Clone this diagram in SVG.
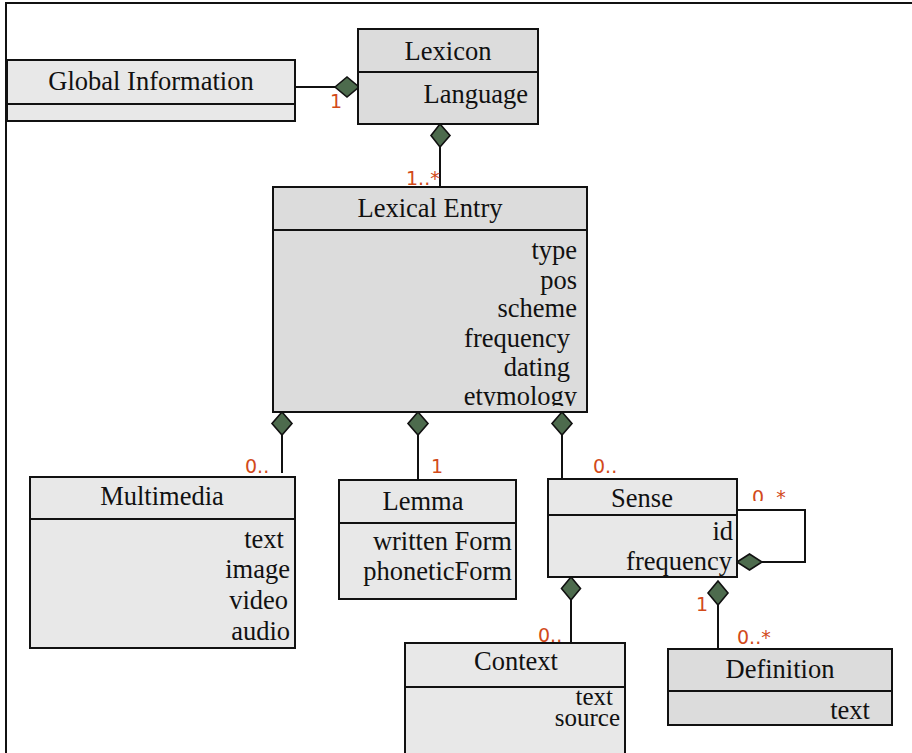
<svg xmlns="http://www.w3.org/2000/svg" width="912" height="753" viewBox="0 0 912 753">
<style>
.box{stroke:#111;stroke-width:2}
.l{fill:#e8e8e8}
.d{fill:#dcdcdc}
.t{font-family:"Liberation Serif","Times New Roman",serif;font-size:26.5px;fill:#111}
.s{font-size:25px}
.c{text-anchor:middle}
.r{text-anchor:end}
.m{font-family:"DejaVu Sans",sans-serif;font-size:19px;fill:#d24a1a}
.ln{stroke:#111;stroke-width:2;fill:none}
.dm{fill:#4d6b4d;stroke:#111;stroke-width:1.6}
</style>
<defs>
<clipPath id="clipEty"><rect x="272" y="380" width="316" height="26"/></clipPath>
<clipPath id="clipLoop"><rect x="740" y="480" width="80" height="21"/></clipPath>
</defs>
<rect width="912" height="753" fill="#fff"/>
<g id="frame"><path d="M6 753 V3 H912" class="ln" stroke-width="3"/></g>

<g id="connectors">
<path class="ln" d="M295 87 H335"/>
<polygon class="dm" points="335,87 347,77 359,87 347,97"/>
<path class="ln" d="M440 147 V187"/>
<polygon class="dm" points="440,124 450,135.5 440,147 431,135.5"/>
<path class="ln" d="M282 435 V473"/>
<polygon class="dm" points="282,412 292,423.5 282,435 272,423.5"/>
<path class="ln" d="M418 435 V480"/>
<polygon class="dm" points="418,412 428,423.5 418,435 408,423.5"/>
<path class="ln" d="M562 435 V481"/>
<polygon class="dm" points="562,412 572,423.5 562,435 552,423.5"/>
<path class="ln" d="M737 510 H805 V562 H762"/>
<polygon class="dm" points="737,562 749.5,554 762,562 749.5,570"/>
<path class="ln" d="M571 600 V643"/>
<polygon class="dm" points="571,577 580.5,588.5 571,600 561.5,588.5"/>
<path class="ln" d="M718 605 V649"/>
<polygon class="dm" points="718,581 728,593 718,605 708,593"/>
<path class="ln" d="M663 568 V577" stroke-width="1.5"/>
<text class="m" x="330" y="108">1</text>
<text class="m" x="406" y="185">1..*</text>
<text class="m" x="245" y="473">0..</text>
<text class="m" x="431" y="473">1</text>
<text class="m" x="593" y="473">0..</text>
<text class="m" x="752" y="504" clip-path="url(#clipLoop)">0..*</text>
<text class="m" x="538" y="642">0..</text>
<text class="m" x="696" y="611">1</text>
<text class="m" x="737" y="644">0..*</text>
</g>

<g id="global-information">
<rect class="box l" x="7" y="60" width="288" height="61"/>
<line class="ln" x1="7" y1="104" x2="295" y2="104"/>
<text class="t c" x="151" y="90">Global Information</text>
</g>

<g id="lexicon">
<rect class="box d" x="358" y="29" width="180" height="95"/>
<line class="ln" x1="358" y1="72" x2="538" y2="72"/>
<text class="t c" x="448" y="60">Lexicon</text>
<text class="t r" x="528" y="103">Language</text>
</g>

<g id="lexical-entry">
<rect class="box d" x="273" y="187" width="314" height="225"/>
<line class="ln" x1="273" y1="230" x2="587" y2="230"/>
<text class="t c" x="430" y="217">Lexical Entry</text>
<text class="t r" x="577" y="259">type</text>
<text class="t r" x="577" y="289">pos</text>
<text class="t r" x="577" y="317">scheme</text>
<text class="t r" x="570" y="347">frequency</text>
<text class="t r" x="570" y="376">dating</text>
<text class="t r" x="577" y="405" clip-path="url(#clipEty)">etymology</text>
</g>

<g id="multimedia">
<rect class="box l" x="30" y="477" width="265" height="171"/>
<line class="ln" x1="30" y1="519" x2="295" y2="519"/>
<text class="t c" x="162" y="505">Multimedia</text>
<text class="t r" x="284" y="548">text</text>
<text class="t r" x="290" y="578">image</text>
<text class="t r" x="288" y="609">video</text>
<text class="t r" x="290" y="640">audio</text>
</g>

<g id="lemma">
<rect class="box l" x="339" y="480" width="177" height="119"/>
<line class="ln" x1="339" y1="523" x2="516" y2="523"/>
<text class="t c" x="423" y="510">Lemma</text>
<text class="t r" x="512" y="550">written Form</text>
<text class="t r" x="512" y="580">phoneticForm</text>
</g>

<g id="sense">
<rect class="box l" x="548" y="479" width="189" height="98"/>
<line class="ln" x1="548" y1="515" x2="737" y2="515"/>
<text class="t c" x="642" y="507">Sense</text>
<text class="t r" x="733" y="540">id</text>
<text class="t r" x="732" y="570">frequency</text>
</g>

<g id="context">
<rect class="box l" x="405" y="643" width="220" height="115"/>
<line class="ln" x1="405" y1="687" x2="625" y2="687"/>
<text class="t c" x="516" y="670">Context</text>
<text class="t s r" x="613" y="705">text</text>
<text class="t s r" x="620" y="726">source</text>
</g>

<g id="definition">
<rect class="box d" x="668" y="649" width="224" height="76"/>
<line class="ln" x1="668" y1="691" x2="892" y2="691"/>
<text class="t c" x="780" y="678">Definition</text>
<text class="t r" x="870" y="719">text</text>
</g>
</svg>
